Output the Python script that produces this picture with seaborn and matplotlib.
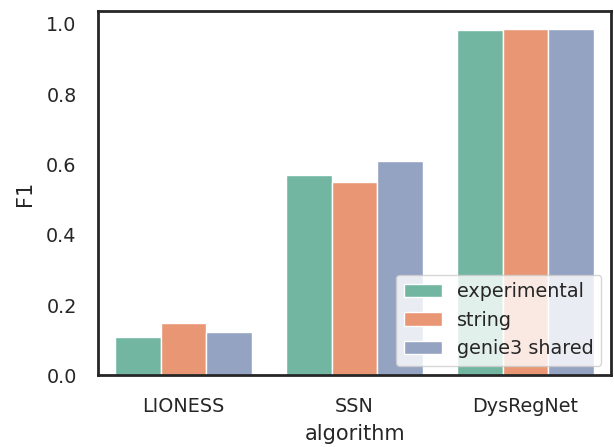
import pandas as pd
import matplotlib
matplotlib.use("Agg")
import matplotlib.pyplot as plt
import seaborn as sns

# F1 values
algorithms = ["LIONESS", "SSN", "DysRegNet"]
networks = ["experimental", "string", "genie3 shared"]
f1_experimental = [0.110, 0.571, 0.982]
f1_string = [0.148, 0.549, 0.987]
f1_genie3 = [0.123, 0.609, 0.987]

rows = []
for i, alg in enumerate(algorithms):
    rows.append({"algorithm": alg, "network": networks[0], "F1": f1_experimental[i]})
    rows.append({"algorithm": alg, "network": networks[1], "F1": f1_string[i]})
    rows.append({"algorithm": alg, "network": networks[2], "F1": f1_genie3[i]})
data = pd.DataFrame(rows)

sns.set_theme(style="white", font_scale=1.25)
plt.rcParams["axes.linewidth"] = 2.0

fig, ax = plt.subplots(figsize=(6.14, 4.47), dpi=100)
sns.barplot(data=data, x="algorithm", y="F1", hue="network",
            hue_order=networks, order=algorithms, palette="Set2", ax=ax)
ax.legend(loc="lower right", title=None)

# extra room between axis and labels, as in the reference
ax.tick_params(axis="both", pad=9.5)
ax.set_ylabel("F1", labelpad=8)
ax.set_xlabel("algorithm", labelpad=6)

fig.subplots_adjust(left=0.16, right=0.995, top=0.975, bottom=0.16)
plt.savefig("out.png", dpi=100)
